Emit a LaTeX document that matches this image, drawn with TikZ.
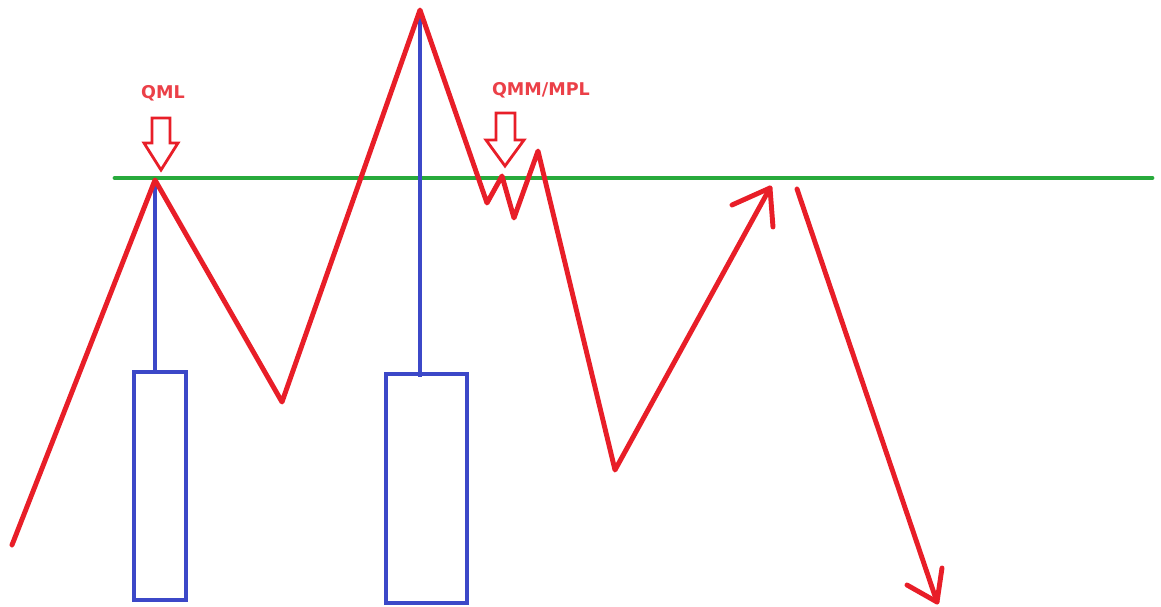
\documentclass[tikz,border=0pt]{standalone}
\usepackage{fontspec}
\setmainfont{DejaVu Sans}
\definecolor{swingred}{RGB}{232,30,40}
\definecolor{candleblue}{RGB}{60,72,200}
\definecolor{necklinegreen}{RGB}{40,170,60}
\begin{document}
\begin{tikzpicture}[x=0.02cm, y=-0.02cm,
    price/.style={draw=swingred, line width=2.8pt, line join=round, line cap=round},
    wick/.style={draw=candleblue, line width=2.2pt},
    level/.style={draw=necklinegreen, line width=2.8pt, line cap=round},
    hollow/.style={draw=swingred, line width=1.6pt, fill=white, line join=miter},
    tag/.style={text=swingred!85!white, font=\bfseries\fontsize{10}{12}\selectfont}]
\useasboundingbox (0,0) rectangle (1161,607);

% Neckline
\draw[level] (115,178) -- (1152,178);

% Candles
\draw[wick] (155,180) -- (155,372);
\draw[wick] (134,372) rectangle (186,600);
\draw[wick] (420,10) -- (420,377);
\draw[wick] (386,374) rectangle (467,603);

% Price swings
\draw[price] (12,545) -- (155,180) -- (282,402) -- (420,10) -- (487,203)
    -- (502,176) -- (514,218) -- (538,151) -- (615,470) -- (770,188);
\draw[price] (732,205) -- (770,188) -- (773,227);
\draw[price] (797,189) -- (937,602);
\draw[price] (907,585) -- (937,602) -- (942,568);

% Markers
\draw[hollow] (152,118) -- (170,118) -- (170,143) -- (178,143) -- (161,170)
    -- (144,143) -- (152,143) -- cycle;
\node[tag] (qml) at (163,93) {QML};
\draw[hollow] (496,113) -- (515,113) -- (515,140) -- (524,140) -- (505,166)
    -- (486,140) -- (496,140) -- cycle;
\node[tag] (qmm) at (541,90) {QMM/MPL};

\end{tikzpicture}
\end{document}
